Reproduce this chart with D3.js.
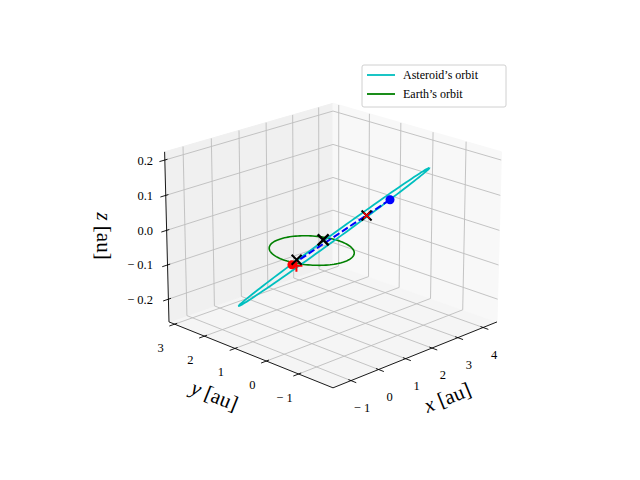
<!DOCTYPE html>
<html><head><meta charset="utf-8">
<script src="https://cdn.jsdelivr.net/npm/d3@7"></script>
<style>body{margin:0;background:#fff}svg{font-family:"Liberation Serif","DejaVu Serif",serif}</style>
</head><body><svg id="c" width="640" height="480"></svg>
<script>
// ---- data ----
const xLim = [-1.64, 4.56];
const yLim = [-2.04, 3.19];
const zLim = [-0.267, 0.223];
const xTicks = [-1, 0, 1, 2, 3, 4];
const yTicks = [-1, 0, 1, 2, 3];
const zTicks = [-0.2, -0.1, 0.0, 0.1, 0.2];
const zTickLabels = ["−0.2", "−0.1", "0.0", "0.1", "0.2"];
const earthRadius = 1.0;
const asteroidCenter = [1.125, 0.26, 0.0];
const asteroidAxisA = [2.195, -1.119, 0.174];
const asteroidAxisB = [-1.216, -1.083, 0.059];
const earthPos = [-1.09, -0.335, 0];
const asteroidPos = [4.31, 1.12, 0];
const redPlus = [[-1.06, -0.447, 0]];
const smallCrosses = [[-0.757, -0.19, 0], [2.93, 0.74, 0]];
const bigCrosses = [[0.76, 0.29, 0]];
const redCrosses = [[2.93, 0.74, 0]];
const legendLabels = ["Asteroid’s orbit", "Earth’s orbit"];
const legendColors = ["#00bfbf", "#008000"];

// ---- projection ----
const elev = 20 * Math.PI / 180, azim = -135 * Math.PI / 180;
const D = 10, S = 235, CX = 333, CY = 238, H = 0.385;
const nx = d3.scaleLinear().domain(xLim).range([-0.5, 0.5]);
const ny = d3.scaleLinear().domain(yLim).range([-0.5, 0.5]);
const nz = d3.scaleLinear().domain(zLim).range([-H, H]);
const R = [-Math.sin(azim), Math.cos(azim), 0];
const U = [-Math.sin(elev) * Math.cos(azim), -Math.sin(elev) * Math.sin(azim), Math.cos(elev)];
const V = [Math.cos(elev) * Math.cos(azim), Math.cos(elev) * Math.sin(azim), Math.sin(elev)];
const dot = (a, b) => a[0] * b[0] + a[1] * b[1] + a[2] * b[2];
function P(x, y, z) {
  const p = [nx(x), ny(y), nz(z)];
  const f = D / (D - dot(p, V));
  return [CX + S * dot(p, R) * f, CY - S * dot(p, U) * f];
}
const Pa = a => P(a[0], a[1], a[2]);
const line = d3.line();

const svg = d3.select("#c");
const [x0, x1] = xLim, [y0, y1] = yLim, [z0, z1] = zLim;

// panes
const panes = [
  {pts: [[x0,y0,z0],[x1,y0,z0],[x1,y1,z0],[x0,y1,z0]], c: "#f5f5f5"},
  {pts: [[x0,y1,z0],[x1,y1,z0],[x1,y1,z1],[x0,y1,z1]], c: "#f0f0f0"},
  {pts: [[x1,y0,z0],[x1,y1,z0],[x1,y1,z1],[x1,y0,z1]], c: "#f8f8f8"}
];
svg.selectAll(".pane").data(panes).join("path")
  .attr("d", d => line(d.pts.map(Pa)) + "Z").attr("fill", d => d.c).attr("stroke", d => d.c);

// grid
const grid = [];
xTicks.forEach(x => { grid.push([[x,y0,z0],[x,y1,z0],[x,y1,z1]]); });
yTicks.forEach(y => { grid.push([[x0,y,z0],[x1,y,z0],[x1,y,z1]]); });
zTicks.forEach(z => { grid.push([[x0,y1,z],[x1,y1,z],[x1,y0,z]]); });
svg.selectAll(".grid").data(grid).join("path")
  .attr("d", d => line(d.map(Pa))).attr("fill", "none").attr("stroke", "#bdbdbd").attr("stroke-width", 0.9);

// axes
const axes = [[[x0,y0,z0],[x1,y0,z0]], [[x0,y0,z0],[x0,y1,z0]], [[x0,y1,z0],[x0,y1,z1]]];
svg.selectAll(".ax").data(axes).join("path")
  .attr("d", d => line(d.map(Pa))).attr("stroke", "#000").attr("stroke-width", 0.9);

const ys = y1 - y0, xs = x1 - x0;
const ticks = [];
xTicks.forEach(x => ticks.push([[x, y0 + 0.015 * ys, z0], [x, y0 - 0.03 * ys, z0]]));
yTicks.forEach(y => ticks.push([[x0 + 0.015 * xs, y, z0], [x0 - 0.03 * xs, y, z0]]));
zTicks.forEach(z => ticks.push([[x0 + 0.015 * xs, y1, z], [x0 - 0.03 * xs, y1, z]]));
svg.selectAll(".tk").data(ticks).join("path")
  .attr("d", d => line(d.map(Pa))).attr("stroke", "#000").attr("stroke-width", 0.9);

// tick labels
const tl = svg.append("g").attr("font-size", 12.5).attr("fill", "#000");
xTicks.forEach(x => { const p = P(x, y0, z0);
  tl.append("text").attr("x", p[0] + 11).attr("y", p[1] + 31).attr("text-anchor", "middle").text(String(x).replace("-", "− ")); });
yTicks.forEach(y => { const p = P(x0, y, z0);
  tl.append("text").attr("x", p[0] - 14).attr("y", p[1] + 28).attr("text-anchor", "middle").text(String(y).replace("-", "− ")); });
zTicks.forEach((z, i) => { const p = P(x0, y1, z);
  tl.append("text").attr("x", 153).attr("y", p[1] + 4.5).attr("text-anchor", "end").text(zTickLabels[i].replace("−", "− ")); });

// axis labels
function axLabel(x, y, rot, v) {
  const t = svg.append("text").attr("transform", `translate(${x},${y}) rotate(${rot})`)
    .attr("text-anchor", "middle").attr("font-size", 21);
  t.append("tspan").attr("font-style", "italic").text(v);
  t.append("tspan").text(" [au]");
}
axLabel(450, 404, -22, "x");
axLabel(212, 402, 22, "y");
axLabel(97, 236, 90, "z");

// Earth orbit
const th = d3.range(0, 361, 3).map(a => a * Math.PI / 180);
svg.append("path").attr("d", line(th.map(t => P(earthRadius * Math.cos(t), earthRadius * Math.sin(t), 0))))
  .attr("fill", "none").attr("stroke", "#008000").attr("stroke-width", 1.6);
// asteroid orbit
svg.append("path").attr("d", line(th.map(t => {
  const c = Math.cos(t), s = Math.sin(t);
  return P(asteroidCenter[0] + c * asteroidAxisA[0] + s * asteroidAxisB[0],
           asteroidCenter[1] + c * asteroidAxisA[1] + s * asteroidAxisB[1],
           asteroidCenter[2] + c * asteroidAxisA[2] + s * asteroidAxisB[2]);
}))).attr("fill", "none").attr("stroke", "#00bfbf").attr("stroke-width", 1.8);

// dashed line
svg.append("path").attr("d", line([Pa(earthPos), Pa(asteroidPos)]))
  .attr("stroke", "#0000ff").attr("stroke-width", 2).attr("stroke-dasharray", "7,3");

function cross(p, size, color, w) {
  const [x, y] = Pa(p);
  svg.append("path").attr("d", `M${x-size},${y-size}L${x+size},${y+size}M${x-size},${y+size}L${x+size},${y-size}`)
    .attr("stroke", color).attr("stroke-width", w);
}
svg.append("circle").attr("cx", Pa(earthPos)[0]).attr("cy", Pa(earthPos)[1]).attr("r", 4.5).attr("fill", "#ff0000");
redPlus.forEach(p => { const [x, y] = Pa(p);
  svg.append("path").attr("d", `M${x-6},${y}L${x+6},${y}M${x},${y-6}L${x},${y+6}`).attr("stroke", "#ff0000").attr("stroke-width", 2); });
svg.append("circle").attr("cx", Pa(asteroidPos)[0]).attr("cy", Pa(asteroidPos)[1]).attr("r", 4.5).attr("fill", "#0000ff");
smallCrosses.forEach(p => cross(p, 5, "#000", 2));
redCrosses.forEach(p => cross(p, 3, "#ff0000", 1.5));
bigCrosses.forEach(p => cross(p, 5.5, "#000", 2.5));

// legend
const lg = svg.append("g");
lg.append("rect").attr("x", 362).attr("y", 65).attr("width", 144).attr("height", 42).attr("rx", 2)
  .attr("fill", "#fff").attr("stroke", "#d0d0d0");
legendLabels.forEach((l, i) => {
  const y = 75 + i * 19;
  lg.append("line").attr("x1", 367).attr("x2", 395).attr("y1", y).attr("y2", y).attr("stroke", legendColors[i]).attr("stroke-width", 1.8);
  lg.append("text").attr("x", 403).attr("y", y + 4).attr("font-size", 12).text(l);
});
</script></body></html>
